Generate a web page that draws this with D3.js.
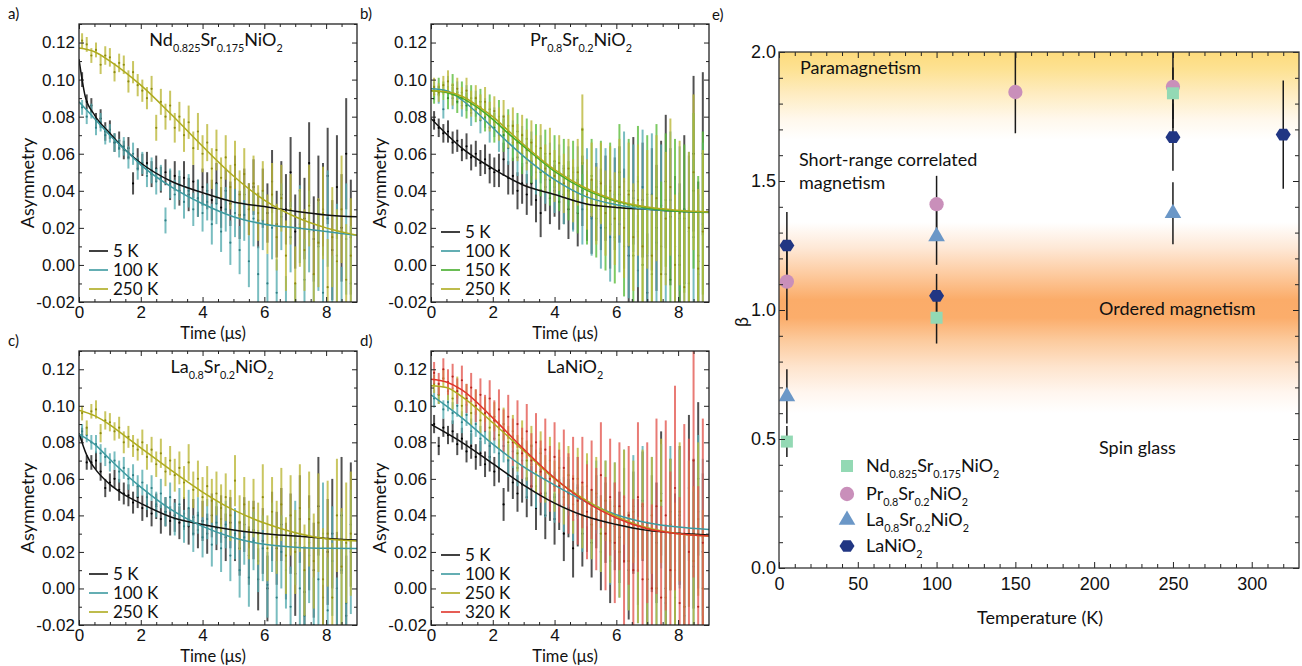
<!DOCTYPE html>
<html><head><meta charset="utf-8">
<script src="https://cdn.jsdelivr.net/npm/d3@7"></script>
<style>body{margin:0;background:#fff;} svg{display:block;}</style>
</head><body>
<svg id="c" width="1302" height="666"></svg>
<script>
// ---------------- DATA ----------------
// time bins (μs) shared by the muSR spectra
const timeBins = [0.1,0.25,0.4,0.55,0.7,0.85,1.0,1.15,1.3,1.45, 1.6,1.75,1.9,2.05,2.2,2.35,2.5,2.65,2.8,2.95,
  3.1,3.25,3.4,3.55,3.7,3.85,4.0,4.15,4.3,4.45, 4.6,4.75,4.9,5.05,5.2,5.35,5.5,5.65,5.8,5.95,
  6.1,6.25,6.4,6.55,6.7,6.85,7.0,7.15,7.3,7.45, 7.6,7.75,7.9,8.05,8.2,8.35,8.5,8.65,8.8];

// asymmetry values in units of 1e-3
const aK5   = [100,88,86,78,79,72,73,66,67,62, 63,44,57,54,55,49,52,46,50,43, 48,40,47,38,45,36,42,40,35,44, 31,40,33,46,27,38,30,42,24,36, 28,45,22,38,30,50,18,40,25,55, 14,35,30,48,8,42,20,60,15];
const aK100 = [85,80,83,74,77,70,71,66,63,64, 58,60,52,55,48,51,45,47,24,44, 38,43,34,40,30,36,28,34,22,33, 18,30,12,28,8,27,2,25,-5,24, -10,20,-15,26,-25,15,-30,22,-8,18, -28,10,-15,25,-22,5,-30,14,-10];
const aK250 = [121,119,113,116,108,113,112,104,109,108, 99,104,97,94,90,95,74,88,80,86, 74,80,70,77,63,72,60,66,52,62, 47,58,42,54,38,49,30,44,28,40, 22,38,15,36,5,30,-10,20,8,32, -5,12,28,-12,15,2,30,-8,5];
const errA  = [4,4,4,4,5,5,5,5,5,5, 6,6,6,6,6,7,7,7,7,8, 8,8,9,9,9,10,10,10,11,11, 11,12,12,13,13,14,14,15,15,16, 16,17,18,18,19,19,20,21,22,22, 23,24,25,26,27,28,29,30,31];

const bK5   = [78,74,71,72,66,67,62,64,58,60, 55,57,52,50,51,57,47,48,40,44, 38,44,35,28,42,36,40,34,38,30, 36,28,40,32,26,34,30,36,22,33, 38,25,5,40,-3,35,-15,30,20,32, 45,26,10,5,30,18,60,2,60];
const bK100 = [94,92,84,96,90,93,86,90,82,87, 78,82,74,77,70,72,63,68,58,64, 55,60,50,57,46,52,42,50,38,48, 35,46,30,44,25,42,20,40,15,38, 22,45,10,36,18,42,5,38,12,30, -5,35,8,25,-10,20,15,-5,22];
const bK150 = [92,96,94,90,97,88,93,86,90,84, 88,80,84,74,80,70,75,66,72,60, 68,56,64,50,60,46,56,44,52,40, 50,35,55,30,48,25,45,20,42,15, 50,10,40,5,45,0,38,-5,42,10, 35,-8,30,0,25,-10,40,5,28];
const bK250 = [96,93,97,99,92,95,90,94,87,90, 85,88,80,83,76,80,72,75,66,70, 62,66,58,63,52,60,48,55,44,52, 40,50,73,38,46,32,44,28,40,25, 42,20,38,15,35,10,30,5,36,-5, 25,42,0,28,-12,20,50,-2,18];
const errB  = [5,5,5,6,6,6,6,7,7,7, 7,8,8,8,9,9,9,10,10,11, 11,12,12,13,13,14,14,15,16,16, 17,18,19,19,20,21,22,23,24,25, 26,27,28,29,30,31,32,33,34,35, 36,37,38,39,40,41,42,43,44];

const cK5   = [84,69,69,70,64,55,58,60,54,52, 51,47,50,44,46,41,45,38,42,37, 40,36,41,34,39,32,37,30,40,33, 38,28,36,29,22,35,18,32,5,26, 0,34,22,35,15,30,8,38,-2,25, 10,45,-5,20,30,0,40,-15,35];
const cK100 = [86,84,80,79,74,72,69,70,64,66, 60,62,56,58,50,55,46,52,42,50, 38,46,34,44,30,40,28,38,24,36, 22,35,18,30,10,28,6,26,15,22, 2,28,-5,20,10,-10,25,0,-15,18, -20,5,30,-12,15,-25,10,-8,20];
const cK250 = [96,88,97,98,85,92,91,86,88,80, 83,78,76,80,72,76,68,74,64,70, 62,66,58,69,54,60,50,56,48,52, 44,50,40,59,36,46,32,44,30,50, 22,42,28,46,18,40,20,44,10,38, 15,36,5,30,-5,40,12,25,30];
const errC  = [4,4,4,5,5,5,5,5,6,6, 6,6,6,7,7,7,7,8,8,8, 9,9,9,10,10,10,11,11,12,12, 13,13,14,14,15,15,16,16,17,18, 18,19,20,20,21,22,23,24,25,26, 26,27,28,29,30,31,32,33,34];

const dK5   = [90,78,88,84,86,79,82,75,78,72, 74,68,72,64,66,46,62,58,52,57, 50,56,44,52,40,50,38,46,30,44, 22,40,30,38,25,42,20,36,15,34, 28,40,10,36,20,45,5,30,25,52, 0,35,15,40,-10,55,30,60,20];
const dK100 = [104,106,98,102,96,100,91,95,86,90, 82,86,78,82,74,78,70,75,66,70, 60,68,56,65,52,62,50,58,46,56, 42,55,38,52,35,50,30,48,25,45, 20,50,15,45,10,48,5,40,0,45, -8,42,-5,38,-15,30,12,42,28];
const dK250 = [112,106,115,108,104,110,100,106,96,102, 92,98,88,94,84,90,80,86,74,82, 70,78,64,74,60,70,56,66,50,62, 46,60,40,56,35,52,30,48,26,45, 20,50,15,42,10,46,5,40,0,48, -5,35,10,42,-10,30,15,38,0];
const dK320 = [118,112,120,113,116,108,114,104,110,100, 106,96,104,92,98,86,94,80,90,74, 86,70,80,64,76,60,72,56,66,52, 60,48,58,42,54,38,62,30,50,25, 45,15,40,10,50,5,36,0,45,-5, 40,10,55,-8,30,20,70,-10,25];
const errD  = [5,5,5,5,6,6,6,6,7,7, 7,7,8,8,8,9,9,9,10,10, 11,11,12,12,13,13,14,14,15,16, 16,17,18,18,19,20,21,22,23,24, 25,26,27,28,29,30,31,32,33,34, 35,36,37,38,39,40,41,42,43];
const errD320 = [6,6,6,7,7,7,8,8,8,9, 9,10,10,11,11,12,12,13,13,14, 15,15,16,17,17,18,19,20,21,22, 23,24,25,26,27,28,29,31,32,33, 35,36,38,39,41,42,44,46,48,50, 52,54,56,58,60,62,64,66,68];

// fitted curves read at knots: [time μs, asymmetry*1e3]
const fitA5   = [[0,111],[0.1,100],[0.2,91],[0.5,81],[1,71],[1.5,62],[2,55],[3,45],[4,39],[5,34],[6,31.5],[7,29],[8,27],[9,26]];
const fitA100 = [[0,88],[0.5,79],[1,70],[1.5,62],[2,54],[3,42],[4,33],[5,26],[6,22],[7,20],[8,18],[9,16]];
const fitA250 = [[0,117],[0.5,115],[1,110],[2,97],[3,81],[4,64],[5,48],[6,35],[7,26],[8,20],[9,16]];
const fitB5   = [[0,79],[1,63],[2,52],[3,43],[4,38],[5,33],[6,31],[7,30],[8,29],[9,28.5]];
const fitB100 = [[0,95],[0.5,94],[1,89],[1.5,82],[2,74],[2.5,66],[3,58.6],[4,46],[5,37],[6,32.5],[7,30],[8,29],[9,28.3]];
const fitB150 = [[0,94],[0.5,93],[1,90],[1.5,85],[2,78.5],[2.5,71],[3,64],[4,50.5],[5,40.6],[6,34.3],[7,30.7],[8,29],[9,28.5]];
const fitB250 = [[0,94],[0.5,93.5],[1,91],[1.5,86],[2,80],[2.5,72.5],[3,65],[4,51.4],[5,41.5],[6,34.8],[7,31.2],[8,29.5],[9,28.5]];
const fitC5   = [[0,85],[0.25,73],[0.5,66],[1,57],[1.5,51],[2,46.6],[3,39],[4,35],[5,32],[6,30],[7,28.7],[8,27.4],[9,26.5]];
const fitC100 = [[0,84.5],[0.5,79],[1,70.7],[1.5,62.7],[2,55.5],[3,43],[4,34],[5,27.8],[6,24.2],[7,22.6],[8,22],[9,21.9]];
const fitC250 = [[0,97.6],[0.5,94.6],[1,89.6],[1.5,83.3],[2,77],[3,64.5],[4,52.8],[5,43],[6,35.8],[7,30.5],[8,27.2],[9,26]];
const fitD5   = [[0,89.8],[1,80],[2,68.3],[3,56.6],[4,46.7],[5,39.5],[6,35],[7,31.8],[8,30.2],[9,29.3]];
const fitD100 = [[0,106],[1,93.4],[2,79],[3,66.5],[4,56.6],[5,47.6],[6,40.4],[7,36],[8,33.6],[9,32.3]];
const fitD250 = [[0,111],[0.5,110],[1,105],[2,90.7],[3,75.4],[4,60],[5,48.5],[6,39.5],[7,33.2],[8,30],[9,28.7]];
const fitD320 = [[0,114.6],[0.5,113],[1,108.7],[2,93.4],[3,76.3],[4,60.5],[5,47.6],[6,38.6],[7,32.7],[8,30],[9,28.7]];

// tick labels
const asymTicks = [-0.02,0.00,0.02,0.04,0.06,0.08,0.10,0.12];
const timeTicks = [0,2,4,6,8];
const betaTicks = [0.0,0.5,1.0,1.5,2.0];
const tempTicks = [0,50,100,150,200,250,300];

// panel e: stretched exponent beta vs temperature
const ndT = [5,100,250],      ndBeta = [0.49,0.97,1.84],        ndErr = [0.06,0.10,0.10];
const prT = [5,100,150,250],  prBeta = [1.11,1.41,1.845,1.865], prErr = [0.15,0.11,0.16,0.16];
const la8T = [5,100,250],     la8Beta = [0.665,1.285,1.375],    la8Err = [0.105,0.11,0.12];
const laT = [5,100,250,320],  laBeta = [1.25,1.055,1.67,1.68],  laErr = [0.13,0.085,0.13,0.21];

// ---------------- DRAWING ----------------
const svg = d3.select("#c");
const FONT = "Lato, 'Noto Sans', sans-serif";
const NUMFONT = "'Liberation Sans', Arial, sans-serif";
const COL = {
  k5:   {line:"#111111", bar:"#262626", dot:"#000"},
  k100: {line:"#3d9aa0", bar:"#58acb0", dot:"#2f7f84"},
  k150: {line:"#45ad2a", bar:"#5cbd3c", dot:"#3a8f22"},
  k250: {line:"#aeab1f", bar:"#bcb83a", dot:"#8f8c10"},
  k320: {line:"#e0342a", bar:"#e45a52", dot:"#b8261e"}
};

function richText(sel, parts, size) {
  let shifted = false;
  parts.forEach(([s, isSub]) => {
    const ts = sel.append("tspan").text(s);
    if (isSub && !shifted) { ts.attr("dy", size*0.32); shifted = true; }
    else if (!isSub && shifted) { ts.attr("dy", -size*0.32); shifted = false; }
    if (isSub) ts.style("font-size", (size*0.6)+"px");
  });
}

function styleAxis(a, font, size) {
  a.select(".domain").remove();
  a.selectAll(".tick line").attr("stroke","#222").attr("stroke-width",1);
  a.selectAll(".tick text").style("font-family",font).style("font-size",size+"px").attr("fill","#111");
}

function muonPanel(p) {
  const x = d3.scaleLinear().domain([0,9]).range([p.left,p.right]);
  const y = d3.scaleLinear().domain([-0.02,0.13]).range([p.bottom,p.top]);
  const g = svg.append("g");
  const cid = "clip"+p.id;
  g.append("clipPath").attr("id",cid).append("rect")
    .attr("x",p.left).attr("y",p.top).attr("width",p.right-p.left).attr("height",p.bottom-p.top);
  const plot = g.append("g").attr("clip-path",`url(#${cid})`);
  p.series.forEach(s => {
    const c = COL[s.key];
    const pts = s.values.map((v,i)=>({t:timeBins[i], v:v/1000, e:s.err[i]/1000}));
    const sg = plot.append("g");
    sg.selectAll("line").data(pts).join("line")
      .attr("x1",d=>x(d.t)).attr("x2",d=>x(d.t))
      .attr("y1",d=>y(d.v-d.e)).attr("y2",d=>y(d.v+d.e))
      .attr("stroke",c.bar).attr("stroke-width",2).attr("stroke-opacity",0.8);
    sg.selectAll("circle").data(pts).join("circle")
      .attr("cx",d=>x(d.t)).attr("cy",d=>y(d.v)).attr("r",1.1).attr("fill",c.dot);
  });
  const line = d3.line().x(d=>x(d[0])).y(d=>y(d[1]/1000)).curve(d3.curveMonotoneX);
  p.series.forEach(s => {
    plot.append("path").datum(s.fit).attr("d",line).attr("fill","none")
      .attr("stroke",COL[s.key].line).attr("stroke-width",1.5);
  });
  // axes
  const yMinor = d3.range(-0.01,0.13,0.02);
  const xMinor = d3.range(0.5,9,0.5).filter(v=>v%2!==0);
  const ax = [];
  ax.push(g.append("g").attr("transform",`translate(${p.left},0)`)
    .call(d3.axisLeft(y).tickValues(asymTicks).tickSizeInner(-5).tickSizeOuter(0).tickPadding(4).tickFormat(d=>d.toFixed(2))));
  ax.push(g.append("g").attr("transform",`translate(${p.left},0)`)
    .call(d3.axisLeft(y).tickValues(yMinor).tickSizeInner(-3).tickSizeOuter(0).tickFormat("")));
  ax.push(g.append("g").attr("transform",`translate(${p.right},0)`)
    .call(d3.axisRight(y).tickValues(asymTicks).tickSizeInner(-5).tickSizeOuter(0).tickFormat("")));
  ax.push(g.append("g").attr("transform",`translate(${p.right},0)`)
    .call(d3.axisRight(y).tickValues(yMinor).tickSizeInner(-3).tickSizeOuter(0).tickFormat("")));
  ax.push(g.append("g").attr("transform",`translate(0,${p.bottom})`)
    .call(d3.axisBottom(x).tickValues(timeTicks).tickSizeInner(-5).tickSizeOuter(0).tickPadding(4).tickFormat(d3.format("d"))));
  ax.push(g.append("g").attr("transform",`translate(0,${p.bottom})`)
    .call(d3.axisBottom(x).tickValues(xMinor).tickSizeInner(-3).tickSizeOuter(0).tickFormat("")));
  ax.push(g.append("g").attr("transform",`translate(0,${p.top})`)
    .call(d3.axisTop(x).tickValues(timeTicks).tickSizeInner(-5).tickSizeOuter(0).tickFormat("")));
  ax.push(g.append("g").attr("transform",`translate(0,${p.top})`)
    .call(d3.axisTop(x).tickValues(xMinor).tickSizeInner(-3).tickSizeOuter(0).tickFormat("")));
  ax.forEach(a=>styleAxis(a, NUMFONT, 17));
  g.append("rect").attr("x",p.left).attr("y",p.top).attr("width",p.right-p.left).attr("height",p.bottom-p.top)
    .attr("fill","none").attr("stroke","#222").attr("stroke-width",1.3);
  // titles
  const tt = g.append("text").attr("x",p.titleX).attr("y",p.top+22).attr("text-anchor","middle")
    .style("font-family",FONT).style("font-size","18px").attr("fill","#111");
  richText(tt, p.title, 18);
  g.append("text").attr("transform",`translate(${p.left-51},${(p.top+p.bottom)/2+20}) rotate(-90)`)
    .attr("text-anchor","middle").attr("dy","0.35em").style("font-family",FONT).style("font-size","18px").attr("fill","#111").text("Asymmetry");
  g.append("text").attr("x",(p.left+p.right)/2-5).attr("y",p.bottom+36.5).attr("text-anchor","middle")
    .style("font-family",FONT).style("font-size","16.5px").attr("fill","#111").text("Time (μs)");
  g.append("text").attr("x",p.left-71).attr("y",p.top-5).style("font-family",FONT).style("font-size","15px").attr("fill","#111").text(p.label);
  // legend
  const n = p.series.length;
  p.series.forEach((s,i) => {
    const yy = p.bottom - 13 - 19*(n-1-i);
    g.append("line").attr("x1",p.left+10).attr("x2",p.left+29).attr("y1",yy).attr("y2",yy)
      .attr("stroke",COL[s.key].line).attr("stroke-width",1.6);
    g.append("text").attr("x",p.left+34).attr("y",yy).attr("dy","0.35em")
      .style("font-family",FONT).style("font-size","17px").attr("fill","#111").text(s.name);
  });
}

muonPanel({id:"a", left:79, right:357, top:24, bottom:302, label:"a)", titleX:216,
  title:[["Nd",0],["0.825",1],["Sr",0],["0.175",1],["NiO",0],["2",1]],
  series:[{key:"k5",name:"5 K",values:aK5,err:errA,fit:fitA5},
          {key:"k100",name:"100 K",values:aK100,err:errA,fit:fitA100},
          {key:"k250",name:"250 K",values:aK250,err:errA,fit:fitA250}]});
muonPanel({id:"b", left:431, right:709, top:24, bottom:302, label:"b)", titleX:581,
  title:[["Pr",0],["0.8",1],["Sr",0],["0.2",1],["NiO",0],["2",1]],
  series:[{key:"k5",name:"5 K",values:bK5,err:errB,fit:fitB5},
          {key:"k100",name:"100 K",values:bK100,err:errB,fit:fitB100},
          {key:"k150",name:"150 K",values:bK150,err:errB,fit:fitB150},
          {key:"k250",name:"250 K",values:bK250,err:errB,fit:fitB250}]});
muonPanel({id:"c", left:79, right:357, top:351, bottom:625, label:"c)", titleX:222,
  title:[["La",0],["0.8",1],["Sr",0],["0.2",1],["NiO",0],["2",1]],
  series:[{key:"k5",name:"5 K",values:cK5,err:errC,fit:fitC5},
          {key:"k100",name:"100 K",values:cK100,err:errC,fit:fitC100},
          {key:"k250",name:"250 K",values:cK250,err:errC,fit:fitC250}]});
muonPanel({id:"d", left:431, right:709, top:351, bottom:625, label:"d)", titleX:575,
  title:[["LaNiO",0],["2",1]],
  series:[{key:"k5",name:"5 K",values:dK5,err:errD,fit:fitD5},
          {key:"k100",name:"100 K",values:dK100,err:errD,fit:fitD100},
          {key:"k250",name:"250 K",values:dK250,err:errD,fit:fitD250},
          {key:"k320",name:"320 K",values:dK320,err:errD320,fit:fitD320}]});

// ---------------- PANEL E ----------------
(function(){
  const L=779, R=1299, T=52, B=568;
  const x = d3.scaleLinear().domain([0,330]).range([L,R]);
  const y = d3.scaleLinear().domain([0,2]).range([B,T]);
  const g = svg.append("g");
  const defs = g.append("defs");
  const grad = defs.append("linearGradient").attr("id","phase").attr("gradientUnits","userSpaceOnUse")
    .attr("x1",0).attr("x2",0).attr("y1",y(2)).attr("y2",y(0));
  [[2.0,"#fddb7c"],[1.93,"#fde294"],[1.84,"#feecc0"],[1.74,"#fff8ec"],[1.66,"#ffffff"],[1.34,"#ffffff"],
   [1.24,"#fee8d6"],[1.14,"#fdcba0"],[1.04,"#fbac69"],[0.97,"#fbad6b"],[0.88,"#fccb9e"],[0.78,"#fee4cd"],
   [0.68,"#fff6ef"],[0.6,"#ffffff"],[0,"#ffffff"]].forEach(([b,c])=>{
    grad.append("stop").attr("offset",(2-b)/2).attr("stop-color",c);
  });
  g.append("rect").attr("x",L).attr("y",T).attr("width",R-L).attr("height",B-T).attr("fill","url(#phase)");
  g.append("clipPath").attr("id","clipE").append("rect").attr("x",L).attr("y",T).attr("width",R-L).attr("height",B-T);

  // annotations
  const ann = [["Paramagnetism",800,74],["Short-range correlated",799,166],["magnetism",799,189],
               ["Ordered magnetism",1099,315],["Spin glass",1099,454]];
  ann.forEach(([s,xx,yy])=>g.append("text").attr("x",xx).attr("y",yy).style("font-family",FONT)
    .style("font-size","18px").attr("fill","#111").text(s));

  const series = [
    {T:prT, b:prBeta, e:prErr, shape:"circle", color:"#c98fba"},
    {T:la8T, b:la8Beta, e:la8Err, shape:"triangle", color:"#6b97c7"},
    {T:laT, b:laBeta, e:laErr, shape:"hexagon", color:"#213683"},
    {T:ndT, b:ndBeta, e:ndErr, shape:"square", color:"#93d9b4"}
  ];
  const plot = g.append("g").attr("clip-path","url(#clipE)");
  series.forEach(s=>{
    const pts = s.T.map((t,i)=>({t, b:s.b[i], e:s.e[i]}));
    plot.append("g").selectAll("line").data(pts).join("line")
      .attr("x1",d=>x(d.t)).attr("x2",d=>x(d.t)).attr("y1",d=>y(d.b-d.e)).attr("y2",d=>y(d.b+d.e))
      .attr("stroke","#1a1a1a").attr("stroke-width",1.5);
  });
  function shapePath(shape){
    if (shape==="circle") return d3.symbol(d3.symbolCircle,160)();
    if (shape==="square") return d3.symbol(d3.symbolSquare,144)();
    if (shape==="triangle") return d3.symbol(d3.symbolTriangle,120)();
    const r=7.5; const pts=d3.range(6).map(k=>[r*Math.cos(k*Math.PI/3), r*0.9*Math.sin(k*Math.PI/3)]);
    return "M"+pts.map(p=>p.join(",")).join("L")+"Z";
  }
  series.forEach(s=>{
    const pts = s.T.map((t,i)=>({t, b:s.b[i]}));
    plot.append("g").selectAll("path").data(pts).join("path")
      .attr("transform",d=>`translate(${x(d.t)},${y(d.b)})`).attr("d",shapePath(s.shape)).attr("fill",s.color);
  });

  // axes
  const yMinor = d3.range(0.1,2,0.1).filter(v=>Math.abs(v*2-Math.round(v*2))>1e-6);
  const xMinor = d3.range(10,330,10).filter(v=>v%50!==0);
  const ax=[];
  ax.push(g.append("g").attr("transform",`translate(${L},0)`).call(d3.axisLeft(y).tickValues(betaTicks).tickSizeInner(-6).tickSizeOuter(0).tickPadding(3).tickFormat(d3.format(".1f"))));
  ax.push(g.append("g").attr("transform",`translate(${L},0)`).call(d3.axisLeft(y).tickValues(yMinor).tickSizeInner(-4).tickSizeOuter(0).tickFormat("")));
  ax.push(g.append("g").attr("transform",`translate(${R},0)`).call(d3.axisRight(y).tickValues(betaTicks).tickSizeInner(-6).tickSizeOuter(0).tickFormat("")));
  ax.push(g.append("g").attr("transform",`translate(${R},0)`).call(d3.axisRight(y).tickValues(yMinor).tickSizeInner(-4).tickSizeOuter(0).tickFormat("")));
  ax.push(g.append("g").attr("transform",`translate(0,${B})`).call(d3.axisBottom(x).tickValues(tempTicks).tickSizeInner(-6).tickSizeOuter(0).tickPadding(9).tickFormat(d3.format("d"))));
  ax.push(g.append("g").attr("transform",`translate(0,${B})`).call(d3.axisBottom(x).tickValues(xMinor).tickSizeInner(-4).tickSizeOuter(0).tickFormat("")));
  ax.push(g.append("g").attr("transform",`translate(0,${T})`).call(d3.axisTop(x).tickValues(tempTicks).tickSizeInner(-6).tickSizeOuter(0).tickFormat("")));
  ax.push(g.append("g").attr("transform",`translate(0,${T})`).call(d3.axisTop(x).tickValues(xMinor).tickSizeInner(-4).tickSizeOuter(0).tickFormat("")));
  ax.forEach(a=>styleAxis(a, NUMFONT, 18));
  g.append("rect").attr("x",L).attr("y",T).attr("width",R-L).attr("height",B-T).attr("fill","none").attr("stroke","#333").attr("stroke-width",1.3);

  g.append("text").attr("x",1040).attr("y",624).attr("text-anchor","middle").style("font-family",FONT)
    .style("font-size","18px").attr("fill","#111").text("Temperature (K)");
  g.append("text").attr("transform","translate(742,322) rotate(-90)").attr("text-anchor","middle").attr("dy","0.35em")
    .style("font-family",FONT).style("font-size","18px").attr("fill","#111").text("β");
  g.append("text").attr("x",712).attr("y",20).style("font-family",FONT).style("font-size","15px").attr("fill","#111").text("e)");

  // legend
  const leg = [
    {shape:"square", color:"#93d9b4", parts:[["Nd",0],["0.825",1],["Sr",0],["0.175",1],["NiO",0],["2",1]]},
    {shape:"circle", color:"#c98fba", parts:[["Pr",0],["0.8",1],["Sr",0],["0.2",1],["NiO",0],["2",1]]},
    {shape:"triangle", color:"#6b97c7", parts:[["La",0],["0.8",1],["Sr",0],["0.2",1],["NiO",0],["2",1]]},
    {shape:"hexagon", color:"#213683", parts:[["LaNiO",0],["2",1]]}
  ];
  const legY = [466,494,520,546];
  leg.forEach((l,i)=>{
    g.append("path").attr("transform",`translate(847,${legY[i]})`).attr("d",shapePath(l.shape)).attr("fill",l.color);
    const t = g.append("text").attr("x",866).attr("y",legY[i]+6).style("font-family",FONT).style("font-size","18px").attr("fill","#111");
    richText(t, l.parts, 18);
  });
})();
</script>
</body></html>
